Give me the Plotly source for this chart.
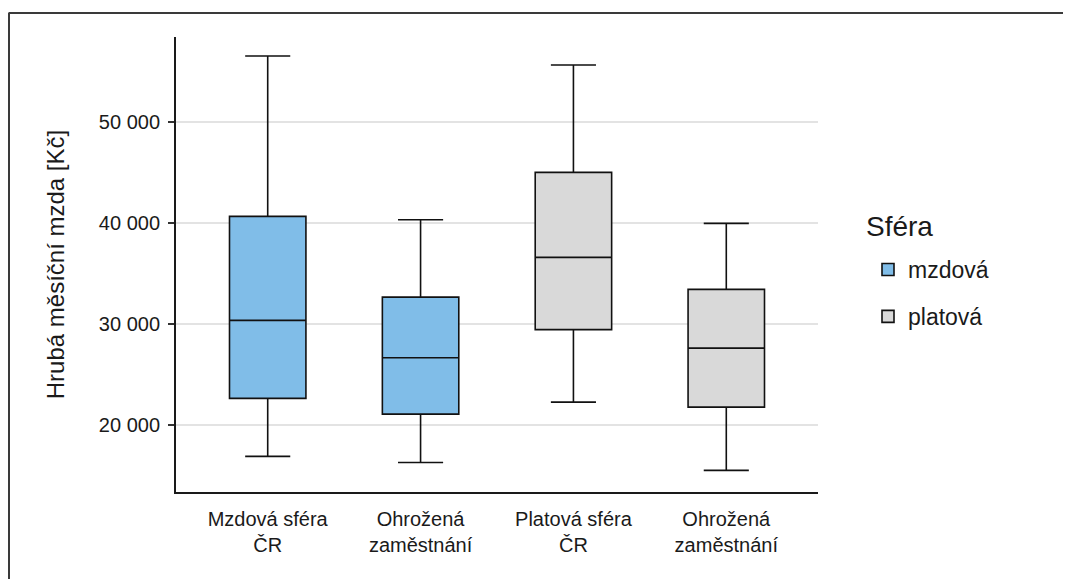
import plotly.graph_objects as go

categories = ["Mzdová sféra<br>ČR", "Ohrožená<br>zaměstnání", "Platová sféra<br>ČR", "Ohrožená<br>zaměstnání"]
sphere = ["mzdová", "mzdová", "platová", "platová"]
lower = [16860, 16260, 22240, 15470]
q1 = [22610, 21050, 29420, 21745]
median = [30340, 26640, 36590, 27590]
q3 = [40650, 32650, 45010, 33410]
upper = [56540, 40320, 55650, 39960]
y_ticks = [20000, 30000, 40000, 50000]

colors = {"mzdová": "#80BDE8", "platová": "#D9D9D9"}

fig = go.Figure()
positions = list(range(1, len(categories) + 1))
for name in ["mzdová", "platová"]:
    idx = [i for i, s in enumerate(sphere) if s == name]
    fig.add_trace(go.Box(
        name=name,
        legendgroup=name,
        x=[positions[i] for i in idx],
        lowerfence=[lower[i] for i in idx],
        q1=[q1[i] for i in idx],
        median=[median[i] for i in idx],
        q3=[q3[i] for i in idx],
        upperfence=[upper[i] for i in idx],
        fillcolor=colors[name],
        line=dict(color="#111111", width=1.6),
        width=0.5,
        whiskerwidth=0.59,
        boxpoints=False,
        hoverinfo="skip",
    ))

# figure pixel geometry (figure origin is offset by the page margin)
W, H = 1071, 579
ml, mr, mt, mb = 168, 261, 29, 95
pw, ph = W - ml - mr, H - mt - mb

def px_x(px):
    return (px - ml) / pw

def px_y(py):
    return (H - mb - py) / ph

fig.update_layout(
    width=W, height=H,
    margin=dict(l=ml, r=mr, t=mt, b=mb, pad=0),
    paper_bgcolor="white", plot_bgcolor="white",
    font=dict(family="Liberation Sans, Arial, sans-serif", color="#1a1a1a"),
    separators=", ",
    boxmode="overlay",
    showlegend=True,
    legend=dict(
        font=dict(size=23, color="#1a1a1a"),
        x=px_x(860), xanchor="left",
        y=px_y(240), yanchor="top",
        tracegroupgap=14,
        bgcolor="rgba(0,0,0,0)",
    ),
    annotations=[
        dict(text="Sféra", xref="paper", yref="paper",
             x=px_x(856), y=px_y(219), xanchor="left", yanchor="middle",
             showarrow=False, font=dict(size=28, color="#1a1a1a")),
    ],
    xaxis=dict(
        range=[0.4, 4.6],
        tickvals=positions,
        ticktext=categories,
        tickfont=dict(size=20, color="#1a1a1a"),
        showgrid=False, zeroline=False,
        showline=True, linecolor="#1a1a1a", linewidth=2,
        ticks="",
        ticklabelstandoff=8,
    ),
    yaxis=dict(
        range=[13330, 58430],
        tickvals=y_ticks,
        tickformat=",d",
        tickfont=dict(size=20, color="#1a1a1a"),
        showgrid=True, gridcolor="#E3E3E3", gridwidth=1.5,
        zeroline=False,
        showline=True, linecolor="#1a1a1a", linewidth=2,
        ticks="outside", ticklen=6, tickwidth=1.5, tickcolor="#333333",
        ticklabelstandoff=4,
        title=dict(text="Hrubá měsíční mzda [Kč]", font=dict(size=24, color="#1a1a1a"), standoff=27),
    ),
    shapes=[
        dict(type="line", xref="paper", yref="paper",
             x0=px_x(0.5), x1=px_x(1080), y0=px_y(5), y1=px_y(5),
             line=dict(color="#3a3a3a", width=2)),
        dict(type="line", xref="paper", yref="paper",
             x0=px_x(1), x1=px_x(1), y0=px_y(5), y1=px_y(590),
             line=dict(color="#3a3a3a", width=2)),
    ],
)

fig.write_html("out.html")
